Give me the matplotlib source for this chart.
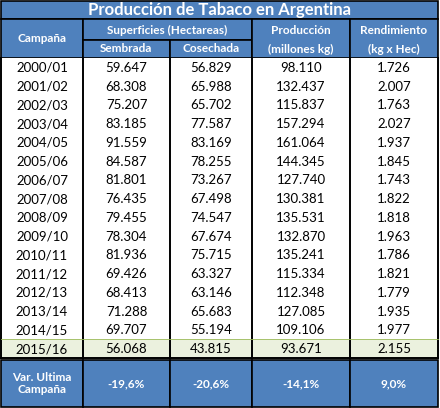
import matplotlib
matplotlib.use("Agg")
import matplotlib.pyplot as plt
from matplotlib.patches import Rectangle

campanas = ["2000/01","2001/02","2002/03","2003/04","2004/05","2005/06","2006/07","2007/08",
            "2008/09","2009/10","2010/11","2011/12","2012/13","2013/14","2014/15","2015/16"]
sembrada = ["59.647","68.308","75.207","83.185","91.559","84.587","81.801","76.435",
            "79.455","78.304","81.936","69.426","68.413","71.288","69.707","56.068"]
cosechada = ["56.829","65.988","65.702","77.587","83.169","78.255","73.267","67.498",
             "74.547","67.674","75.715","63.327","63.146","65.683","55.194","43.815"]
produccion = ["98.110","132.437","115.837","157.294","161.064","144.345","127.740","130.381",
              "135.531","132.870","135.241","115.334","112.348","127.085","109.106","93.671"]
rendimiento = ["1.726","2.007","1.763","2.027","1.937","1.845","1.743","1.822",
               "1.818","1.963","1.786","1.821","1.779","1.935","1.977","2.155"]
variacion = ["-19,6%","-20,6%","-14,1%","9,0%"]

W, H = 440, 408
fig = plt.figure(figsize=(W/100, H/100), dpi=100)
ax = fig.add_axes([0, 0, 1, 1])
ax.set_xlim(0, W); ax.set_ylim(H, 0); ax.axis("off")
plt.rcParams['font.family'] = ['Lato', 'DejaVu Sans']

blue = "#4f81bd"
xs = [1, 83, 170, 252, 350, 438]
def rect(x0, y0, x1, y1, fc, lw=1.2, ec="black"):
    ax.add_patch(Rectangle((x0, y0), x1-x0, y1-y0, facecolor=fc, edgecolor=ec, lw=lw))
def txt(x, y, s, color="black", size=10, bold=False):
    ax.text(x, y, s, ha="center", va="center", color=color, fontsize=size,
            fontweight="bold" if bold else "normal")

# title
rect(1, 1, 438, 19, blue)
txt(219, 10, "Producción de Tabaco en Argentina", "white", 12, True)
# headers
rect(xs[0], 19, xs[1], 58, blue); txt(42, 39, "Campaña", "white", 8.5, True)
rect(xs[1], 19, xs[3], 40, blue); txt(167, 30, "Superficies (Hectareas)", "white", 8.5, True)
rect(xs[1], 40, xs[2], 58, blue); txt(126, 49, "Sembrada", "white", 8.5, True)
rect(xs[2], 40, xs[3], 58, blue); txt(211, 49, "Cosechada", "white", 8.5, True)
rect(xs[3], 19, xs[4], 58, blue); txt(301, 30, "Producción", "white", 8.5, True)
txt(301, 49, "(millones kg)", "white", 8.5, True)
rect(xs[4], 19, xs[5], 58, blue); txt(394, 30, "Rendimiento", "white", 8.5, True)
txt(394, 49, "(kg x Hec)", "white", 8.5, True)

# data
top, rh = 58, 18.75
n = len(campanas)
for i in range(n):
    y0 = top + i*rh
    fc = "#ebf1de" if i == n-1 else "white"
    ax.add_patch(Rectangle((1, y0), 437, rh, facecolor=fc, edgecolor="none"))
    for j, col in enumerate([campanas, sembrada, cosechada, produccion, rendimiento]):
        txt((xs[j]+xs[j+1])/2, y0+rh/2+0.5, col[i], size=9.5)
bot = top + n*rh
for x in xs:
    ax.plot([x, x], [top, bot], color="black", lw=1.4)
ax.plot([1, 438], [bot, bot], color="black", lw=1.4)
ax.plot([1, 438], [bot-rh, bot-rh], color="#9bbb59", lw=0.6)

# variation row
y0, y1 = bot + 2, 407
for j in range(5):
    rect(xs[j], y0, xs[j+1], y1, blue)
txt(42, (y0+y1)/2, "Var. Ultima\nCampaña", "white", 8.5, True)
for j, v in enumerate(variacion):
    txt((xs[j+1]+xs[j+2])/2, (y0+y1)/2, v, "white", 8.5, True)

fig.savefig("out.png", dpi=100, facecolor="white")
